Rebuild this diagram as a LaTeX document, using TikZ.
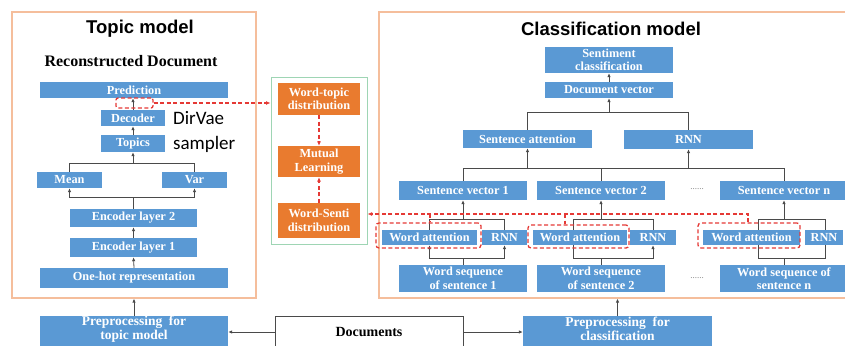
\documentclass[tikz,border=0pt]{standalone}
\usepackage{fontspec}
\setmainfont{Liberation Serif}
\newfontfamily\headsans{Liberation Sans}
\newfontfamily\notefont{Carlito}
\usetikzlibrary{arrows.meta}

\definecolor{boxblue}{HTML}{5A99D4}
\definecolor{boxorange}{HTML}{E97B2F}
\definecolor{framepeach}{HTML}{F5BE9C}
\definecolor{framegreen}{HTML}{9ED5B4}
\definecolor{dashred}{HTML}{E53935}
\definecolor{linegray}{HTML}{4A4A4A}

\tikzset{
  bbox/.style={fill=boxblue, draw=none, text=white, inner sep=0pt, align=center,
    font=\bfseries\fontsize{12.3}{13.5}\selectfont},
  obox/.style={bbox, fill=boxorange},
  frame/.style={draw=framepeach, line width=1.2pt, inner sep=0pt},
  link/.style={draw=linegray, line width=0.8pt},
  arr/.style={link, -{Latex[length=4pt,width=3.5pt]}},
  rdash/.style={draw=dashred, line width=1.3pt, dash pattern=on 4pt off 2.5pt},
  rarr/.style={rdash, -{Latex[length=4.5pt,width=4pt]}},
  dots/.style={text=gray, font=\fontsize{9}{9}\selectfont},
  headline/.style={font=\headsans\bfseries\fontsize{18.5}{20}\selectfont},
  pretext/.style={text=white, inner sep=0pt, align=center,
    font=\bfseries\fontsize{13.5}{14}\selectfont},
}

\begin{document}
\begin{tikzpicture}[x=1pt, y=-1pt]
\useasboundingbox (0,0) rectangle (845,345);

% ---------------- Topic model ----------------
\node[frame, minimum width=244pt, minimum height=286pt] (tframe) at (134,155) {};
\node[headline] (ttitle) at (140,29) {Topic model};
\node[font=\bfseries\fontsize{16}{18}\selectfont] (recon) at (131,61) {Reconstructed Document};

\node[bbox, minimum width=188pt, minimum height=16pt] (pred) at (134,90) {Prediction};
\node[bbox, minimum width=64pt, minimum height=16pt] (dec) at (133,118) {Decoder};
\node[bbox, minimum width=64pt, minimum height=17pt] (topics) at (133,143.5) {Topics};
\node[align=left, anchor=north west, inner sep=0pt,
      font=\notefont\fontsize{19}{25}\selectfont] (dirvae) at (173,111) {DirVae\\sampler};
\node[bbox, minimum width=65pt, minimum height=16pt] (mean) at (69.5,180) {Mean};
\node[bbox, minimum width=65pt, minimum height=16pt] (var) at (194.5,180) {Var};
\node[bbox, minimum width=127pt, minimum height=18pt] (enc2) at (133.5,218) {Encoder layer 2};
\node[bbox, minimum width=127pt, minimum height=19pt] (enc1) at (133.5,247.5) {Encoder layer 1};
\node[bbox, minimum width=188pt, minimum height=20pt] (onehot) at (134,278) {One-hot representation};

\draw[arr] (dec.north) -- (dec.north |- pred.south);
\draw[arr] (topics.north) -- (dec.south);
\coordinate (tbus) at (133,163);
\draw[link] (mean.north) -- (mean.north |- tbus) -- (var.north |- tbus) -- (var.north);
\draw[arr] (tbus) -- (topics.south);
\coordinate (ebus) at (133.5,197);
\draw[link] (enc2.north) -- (ebus);
\draw[arr] (ebus) -| (mean.south);
\draw[arr] (ebus) -| (var.south);
\draw[arr] (enc1.north) -- (enc2.south);
\draw[arr] (onehot.north) -- (enc1.south);

% ---------------- Mutual learning ----------------
\node[draw=framegreen, line width=1pt, inner sep=0pt,
      minimum width=96pt, minimum height=167pt] (gframe) at (319,160.5) {};
\node[obox, minimum width=82pt, minimum height=32pt] (wtopic) at (319,99) {Word-topic\\distribution};
\node[obox, minimum width=82pt, minimum height=31pt] (mutual) at (319,161.5) {Mutual\\Learning};
\node[obox, minimum width=82pt, minimum height=35pt] (wsenti) at (319,220.5) {Word-Senti\\distribution};
\draw[rarr] (wtopic.south) -- (mutual.north);
\draw[rarr] (wsenti.north) -- (mutual.south);

\node[rdash, rounded corners=2pt, minimum width=37pt, minimum height=10pt, inner sep=0pt] (dmark) at (134.5,103) {};
\draw[rarr] (dmark.east) -- (dmark.east -| gframe.west);

% ---------------- Classification model ----------------
\node[frame, minimum width=473pt, minimum height=286pt] (cframe) at (615.5,155) {};
\node[headline] (ctitle) at (611,29) {Classification model};

\node[bbox, minimum width=128pt, minimum height=26pt] (senti) at (609,60) {Sentiment\\classification};
\node[bbox, minimum width=128pt, minimum height=16pt] (docvec) at (609,90) {Document vector};
\node[bbox, minimum width=129pt, minimum height=18pt] (sentatt) at (527.5,139) {Sentence attention};
\node[bbox, minimum width=129pt, minimum height=19pt] (rnnup) at (688.5,139.5) {RNN};
\draw[arr] (docvec.north) -- (senti.south);
\coordinate (cbus) at (609,112);
\draw[link] (sentatt.north) -- (sentatt.north |- cbus) -- (rnnup.north |- cbus) -- (rnnup.north);
\draw[arr] (cbus) -- (docvec.south);

\node[bbox, minimum width=128pt, minimum height=19pt] (sv1) at (463,190.5) {Sentence vector 1};
\node[bbox, minimum width=128pt, minimum height=19pt] (sv2) at (601,190.5) {Sentence vector 2};
\node[bbox, minimum width=128pt, minimum height=19pt] (svn) at (784,190.5) {Sentence vector n};
\node[dots] (dotsa) at (697,189) {......};
\coordinate (sbus) at (463,168);
\draw[link] (sv1.north) -- (sbus) -- (svn.north |- sbus) -- (svn.north);
\draw[link] (sv2.north) -- (sv2.north |- sbus);
\draw[arr] (sentatt.south |- sbus) -- (sentatt.south);
\draw[arr] (rnnup.south |- sbus) -- (rnnup.south);

% word level, sentence 1
\node[bbox, minimum width=95pt, minimum height=15pt] (wa1) at (429.5,237.5) {Word attention};
\node[bbox, minimum width=45pt, minimum height=15pt] (rnn1) at (504.5,237.5) {RNN};
\node[bbox, minimum width=128pt, minimum height=27pt] (wseq1) at (463,278.5) {Word sequence\\of sentence 1};
\draw[link] (wa1.north) -- (wa1.north |- 0,219) -- (rnn1.north |- 0,219) -- (rnn1.north);
\draw[arr] (sv1.south |- 0,219) -- (sv1.south);
\draw[link] (wseq1.north) -- (wseq1.north |- 0,258);
\draw[arr] (wseq1.north |- 0,258) -| (wa1.south);
\draw[arr] (wseq1.north |- 0,258) -| (rnn1.south);

% word level, sentence 2
\node[bbox, minimum width=94pt, minimum height=15pt] (wa2) at (580,237.5) {Word attention};
\node[bbox, minimum width=46pt, minimum height=15pt] (rnn2) at (653,237.5) {RNN};
\node[bbox, minimum width=128pt, minimum height=27pt] (wseq2) at (601,278.5) {Word sequence\\of sentence 2};
\coordinate (g2l) at (573,219);
\draw[link] (g2l) -- (g2l |- wa2.north);
\draw[link] (g2l) -- (rnn2.north |- g2l) -- (rnn2.north);
\draw[arr] (sv2.south |- g2l) -- (sv2.south);
\draw[link] (wseq2.north) -- (wseq2.north |- 0,258) -- (g2l |- 0,258) -- (g2l |- wa2.south);
\draw[arr] (wseq2.north |- 0,258) -| (rnn2.south);

% word level, sentence n
\node[bbox, minimum width=97pt, minimum height=15pt] (wan) at (751.5,237.5) {Word attention};
\node[bbox, minimum width=38pt, minimum height=15pt] (rnnn) at (824,237.5) {RNN};
\node[bbox, minimum width=128pt, minimum height=27pt] (wseqn) at (784,278.5) {Word sequence of\\sentence n};
\node[dots] (dotsb) at (697,278) {......};
\coordinate (gnl) at (758,219);
\coordinate (gnr) at (825,219);
\draw[link] (gnl |- wan.north) -- (gnl) -- (gnr) -- (gnr |- rnnn.north);
\draw[arr] (svn.south |- gnl) -- (svn.south);
\draw[link] (gnl |- wan.south) -- (gnl |- 0,258) -- (gnr |- 0,258) -- (gnr |- rnnn.south);
\draw[link] (wseqn.north) -- (wseqn.north |- 0,258);

% attention groups linked to the word-sentiment distribution
\node[rdash, rounded corners=3pt, minimum width=105pt, minimum height=25pt, inner sep=0pt] (rb1) at (428.5,235.5) {};
\node[rdash, rounded corners=3pt, minimum width=101pt, minimum height=23pt, inner sep=0pt] (rb2) at (578.5,236.5) {};
\node[rdash, rounded corners=3pt, minimum width=102pt, minimum height=25pt, inner sep=0pt] (rbn) at (749,235.5) {};
\coordinate (rtop) at (748,214);
\draw[rarr] (rtop |- rbn.north) -- (rtop) -- (rtop -| gframe.east);
\draw[rdash] (430,214) -- (430,214 |- rb1.north);
\draw[rdash] (565,214) -- (565,214 |- rb2.north);

% ---------------- Input stage ----------------
\node[fill=boxblue, inner sep=0pt, minimum width=188pt, minimum height=30pt, anchor=north] (pre1) at (134,316) {};
\node[pretext] (pre1text) at (134,329) {Preprocessing\ \ for\\topic model};
\node[draw=linegray, line width=0.8pt, fill=white, minimum width=188pt, minimum height=38pt, inner sep=0pt] (docs) at (369,335) {};
\node[font=\bfseries\fontsize{14}{16}\selectfont, inner sep=0pt] (docstext) at (369,332) {Documents};
\node[fill=boxblue, inner sep=0pt, minimum width=189pt, minimum height=30pt, anchor=north] (pre2) at (617.5,316) {};
\node[pretext] (pre2text) at (617.5,329) {Preprocessing\ \ for\\classification};

\draw[arr] (docs.west |- 0,332) -- (pre1.east |- 0,332);
\draw[arr] (docs.east |- 0,332) -- (pre2.west |- 0,332);
\draw[arr] (pre1.north) -- (pre1.north |- tframe.south);
\draw[arr] (pre2.north) -- (pre2.north |- cframe.south);
\end{tikzpicture}
\end{document}
